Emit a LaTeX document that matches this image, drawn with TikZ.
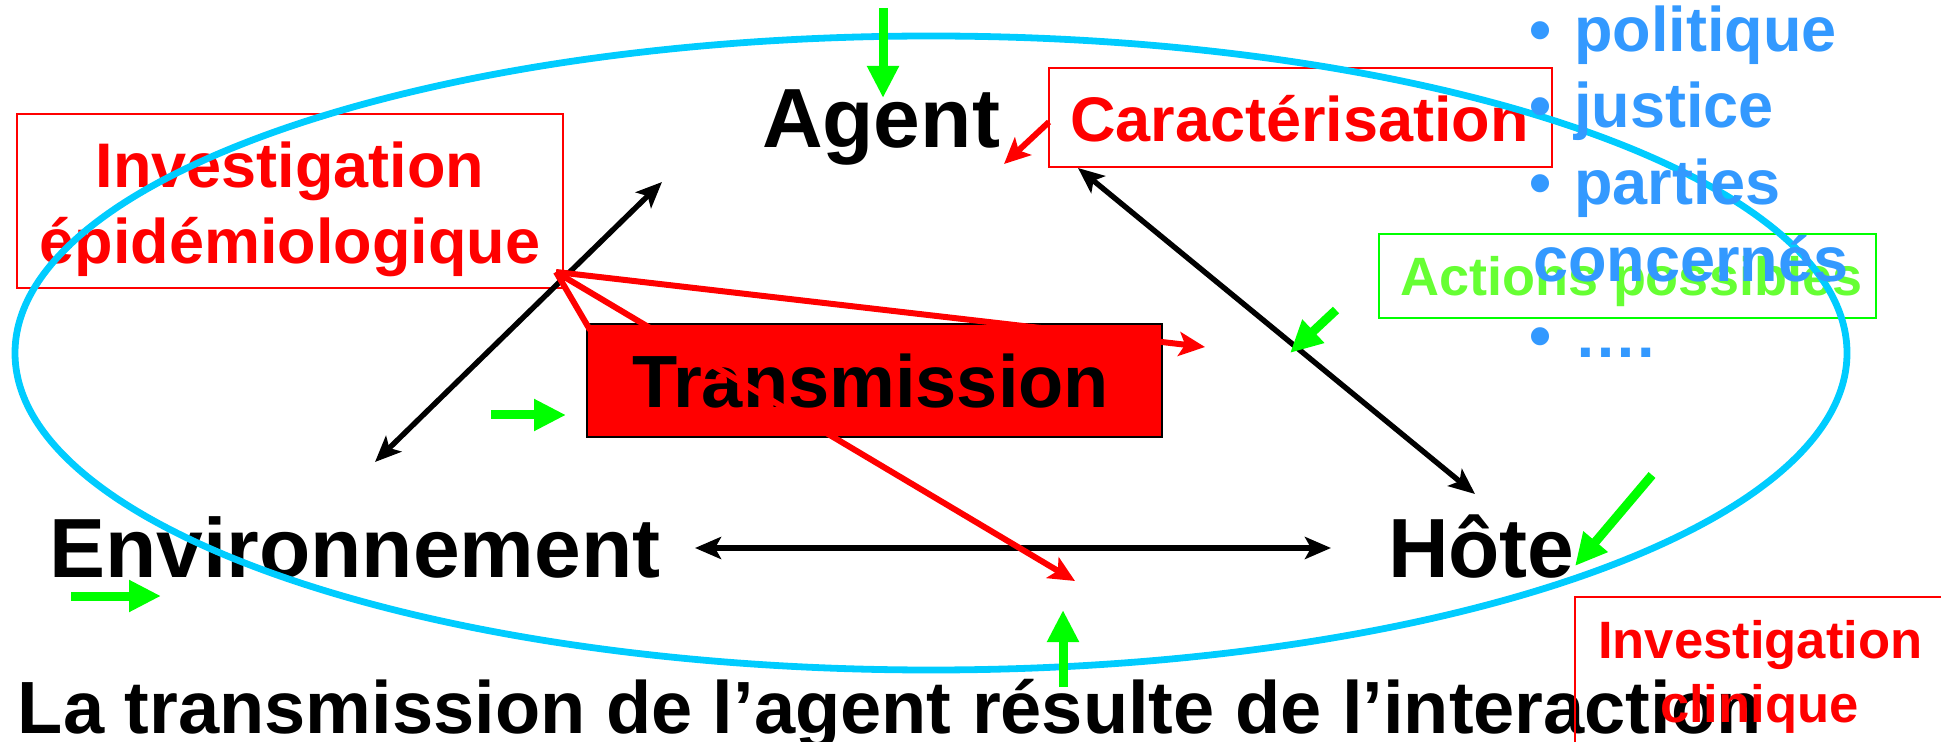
\documentclass[tikz,border=0pt]{standalone}
\usepackage{fontspec}
\setmainfont{Liberation Sans}
\usetikzlibrary{arrows.meta}
\definecolor{ringcyan}{HTML}{00CCFF}
\definecolor{listblue}{HTML}{3399FF}
\definecolor{actgreen}{HTML}{66FF33}
\definecolor{arrgreen}{HTML}{00FF00}
\definecolor{pured}{HTML}{FF0000}
\begin{document}
\begin{tikzpicture}[x=0.5pt,y=-0.5pt,
  txt/.style={inner sep=0pt, outer sep=0pt, anchor=base west},
  bigword/.style={txt, font=\fontsize{42}{42}\selectfont\bfseries},
  midword/.style={txt, font=\fontsize{37}{37}\selectfont\bfseries},
  redword/.style={txt, text=pured, font=\fontsize{31.5}{31.5}\selectfont\bfseries},
  blueword/.style={txt, text=listblue, font=\fontsize{31.5}{31.5}\selectfont\bfseries},
  greenword/.style={txt, text=actgreen, font=\fontsize{27}{27}\selectfont\bfseries},
  smallred/.style={txt, text=pured, font=\fontsize{26.3}{26.3}\selectfont\bfseries},
  framebox/.style={draw, line width=1pt, inner sep=0pt, outer sep=0pt},
  link/.style={line width=2.7pt, {Stealth[length=13pt,width=11pt,inset=3pt]}-{Stealth[length=13pt,width=11pt,inset=3pt]}},
  redlink/.style={pured, line width=3pt, -{Stealth[length=13pt,width=12pt,inset=3pt]}},
  redline/.style={pured, line width=3pt},
  cue/.style={arrgreen, line width=4.5pt, -{Triangle[length=16pt,width=15pt]}},
]
\useasboundingbox (0,0) rectangle (1941,742);
\clip (0,0) rectangle (1941,742);

% words lying under the ring
\node[bigword] (env) at (49,577) {Environnement};

% investigation box (upper left)
\node[framebox, draw=pured, minimum width=273pt, minimum height=87pt] (epibox) at (290,201) {};
\node[redword, anchor=base] (epi1) at (290,188) {Investigation};
\node[redword, anchor=base] (epi2) at (290,264) {épidémiologique};

% characterisation box
\node[framebox, draw=pured, minimum width=251.5pt, minimum height=49.5pt] (carbox) at (1300.5,117.5) {};
\node[redword] (cartxt) at (1070,142) {Caractérisation};

% possible actions box
\node[framebox, draw=arrgreen, minimum width=248.5pt, minimum height=42pt] (actbox) at (1627.5,276) {};
\node[greenword] (acttxt) at (1400,296) {Actions possibles};

% the three poles
\node[bigword] (agent) at (762,148) {Agent};
\node[bigword] (hote) at (1388,577) {Hôte};

% caption line
\node[midword] (caption) at (18,733) {La transmission de l’agent résulte de l’interaction};

% clinical investigation box (lower right)
\node[framebox, draw=pured, anchor=north west, minimum width=200pt, minimum height=100pt] (clinbox) at (1575,597) {};
\node[smallred] (clin1) at (1598,658) {Investigation};
\node[smallred] (clin2) at (1660,722) {clinique};

% the ring
\draw[ringcyan, line width=3.4pt] (931,353) ellipse [x radius=916, y radius=317];

% list of actors
\node[blueword] (b1) at (1529,52) {•};
\node[blueword] (l1) at (1574,52) {politique};
\node[blueword] (b2) at (1529,128) {•};
\node[blueword] (l2) at (1574,128) {justice};
\node[blueword] (b3) at (1529,205) {•};
\node[blueword] (l3) at (1574,205) {parties};
\node[blueword] (l4) at (1533,282) {concernés};
\node[blueword] (b5) at (1529,358) {•};
\node[blueword] (l5) at (1574,358) {….};

% endpoints of the interaction arrows
\coordinate (agSW) at (662,182);
\coordinate (envNE) at (375,462);
\coordinate (agSE) at (1078,168);
\coordinate (hoNW) at (1475,494);
\coordinate (envE) at (695,548);
\coordinate (hoW) at (1331,548);
\draw[link] (agSW) -- (envNE);
\draw[link] (agSE) -- (hoNW);
\draw[link] (envE) -- (hoW);

% transmission box
\node[draw=black, fill=pured, line width=0.8pt, inner sep=0pt, minimum width=287.5pt, minimum height=56.5pt] (tbox) at (874.5,380.5) {};
\node[midword] (ttxt) at (632,408) {Transmission};

% red links from the investigation corner
\coordinate (apex) at (556,272);
\coordinate (tipA) at (1205,347);
\coordinate (tipB) at (1075,581);
\coordinate (tcorner) at (590,330);
\draw[redline] (tcorner) -- (apex);
\draw[redlink] (apex) -- (tipA);
\draw[redlink] (apex) -- (tipB);
\coordinate (carW) at (1049,122);
\coordinate (carTip) at (1004,164);
\draw[redlink] (carW) -- (carTip);

% green cue arrows
\coordinate (g1s) at (883,8);    \coordinate (g1e) at (883,98);
\coordinate (g2s) at (1336,310); \coordinate (g2e) at (1290,353);
\coordinate (g3s) at (1652,475); \coordinate (g3e) at (1575,566);
\coordinate (g4s) at (491,415);  \coordinate (g4e) at (566,415);
\coordinate (g5s) at (71,596);   \coordinate (g5e) at (161,596);
\coordinate (g6s) at (1063,687); \coordinate (g6e) at (1063,610);
\draw[cue] (g1s) -- (g1e);
\draw[cue] (g2s) -- (g2e);
\draw[cue] (g3s) -- (g3e);
\draw[cue] (g4s) -- (g4e);
\draw[cue] (g5s) -- (g5e);
\draw[cue] (g6s) -- (g6e);
\end{tikzpicture}
\end{document}
